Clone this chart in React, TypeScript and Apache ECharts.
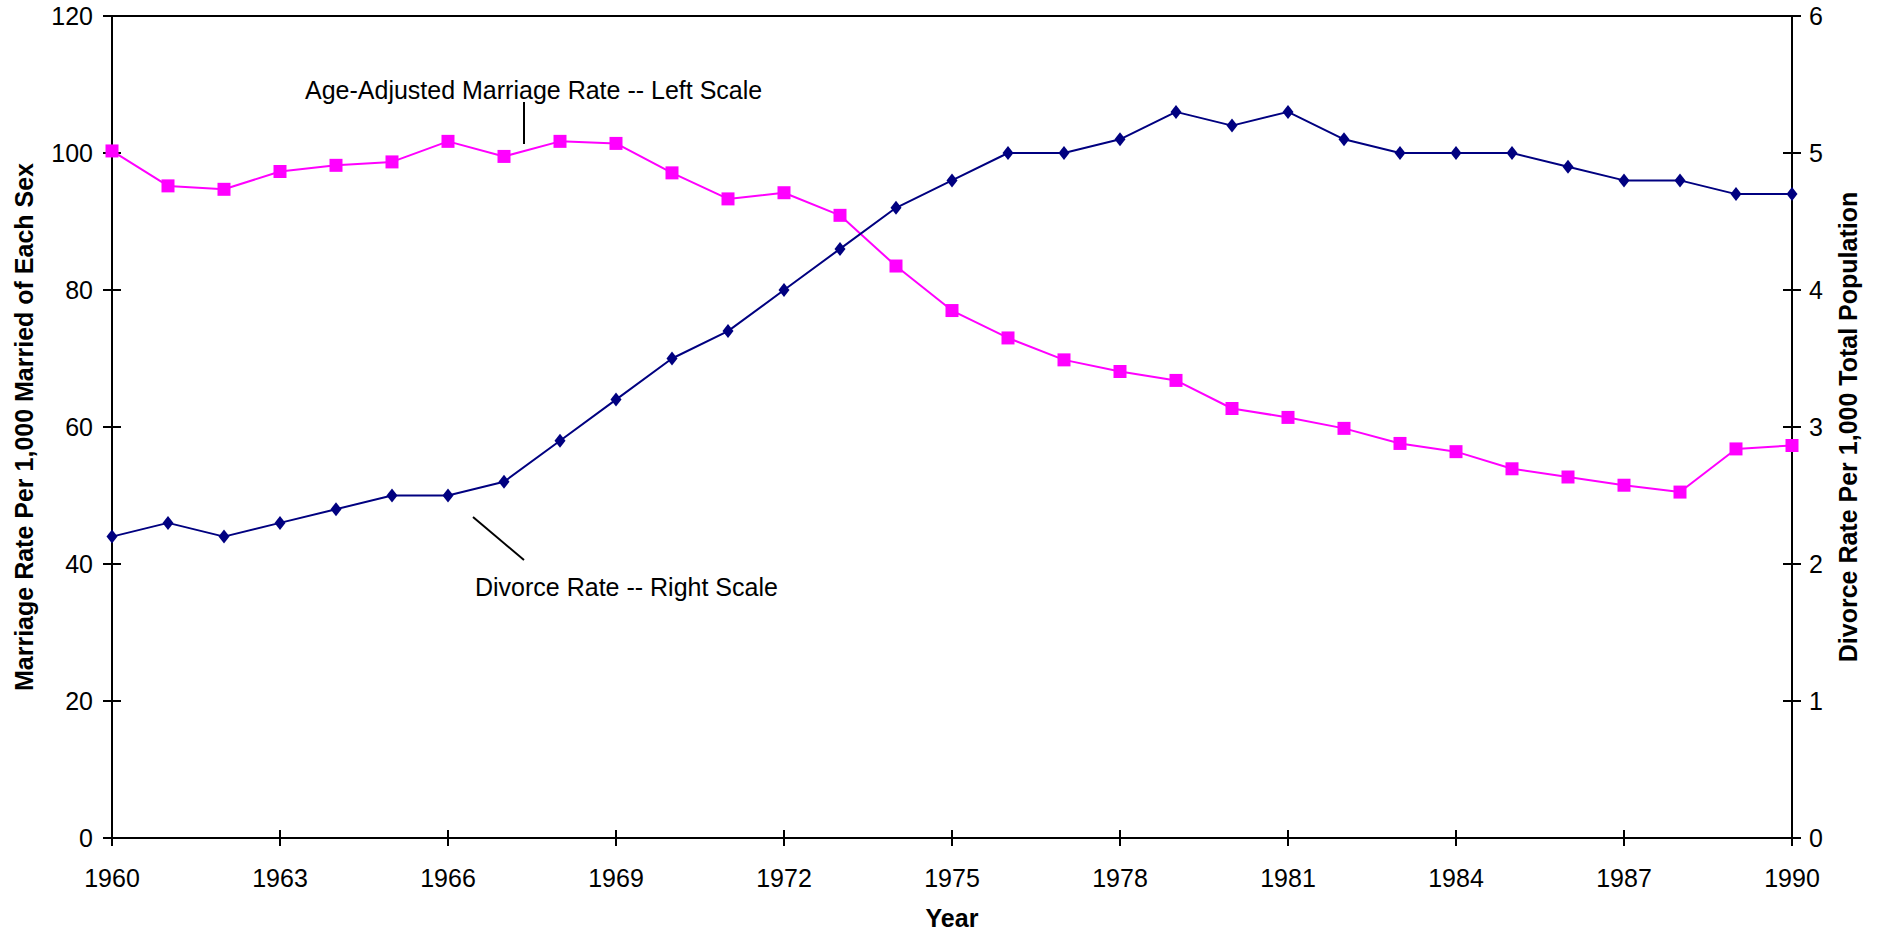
import React, { useEffect, useRef } from "react";
import * as echarts from "echarts";

const years = [
  "1960", "1961", "1962", "1963", "1964", "1965", "1966", "1967", "1968", "1969",
  "1970", "1971", "1972", "1973", "1974", "1975", "1976", "1977", "1978", "1979",
  "1980", "1981", "1982", "1983", "1984", "1985", "1986", "1987", "1988", "1989", "1990",
];

// Age-adjusted marriage rate per 1,000 married of each sex (left scale)
const marriageRate = [
  100.3, 95.2, 94.7, 97.3, 98.2, 98.7, 101.7, 99.5, 101.7, 101.4,
  97.1, 93.3, 94.2, 90.9, 83.5, 77.0, 73.0, 69.8, 68.1, 66.8,
  62.7, 61.4, 59.8, 57.6, 56.4, 53.9, 52.7, 51.5, 50.5, 56.8, 57.3,
];

// Divorce rate per 1,000 total population (right scale)
const divorceRate = [
  2.2, 2.3, 2.2, 2.3, 2.4, 2.5, 2.5, 2.6, 2.9, 3.2,
  3.5, 3.7, 4.0, 4.3, 4.6, 4.8, 5.0, 5.0, 5.1, 5.3,
  5.2, 5.3, 5.1, 5.0, 5.0, 5.0, 4.9, 4.8, 4.8, 4.7, 4.7,
];

const leftAxisMin = 0;
const leftAxisMax = 120;
const leftAxisStep = 20;
const rightAxisMin = 0;
const rightAxisMax = 6;
const rightAxisStep = 1;

const leftTitle = "Marriage Rate Per 1,000 Married of Each Sex";
const rightTitle = "Divorce Rate Per 1,000 Total Population";
const xTitle = "Year";
const marriageNote = "Age-Adjusted Marriage Rate -- Left Scale";
const divorceNote = "Divorce Rate -- Right Scale";

const FONT = '"Liberation Sans", Arial, Helvetica, sans-serif';
const MAGENTA = "#FF00FF";
const NAVY = "#000080";

export default function App() {
  const ref = useRef<HTMLDivElement>(null);

  useEffect(() => {
    if (!ref.current) return;
    const chart = echarts.init(ref.current, null, { renderer: "svg" });

    const tickStyle = { color: "#000", width: 2 };
    const hiddenLine = { show: false };

    const option: any = {
      animation: false,
      backgroundColor: "#fff",
      textStyle: { fontFamily: FONT },
      grid: {
        left: 112,
        top: 16,
        width: 1680,
        height: 822,
        show: true,
        borderColor: "#000",
        borderWidth: 2,
        backgroundColor: "transparent",
      },
      xAxis: [
        {
          type: "category",
          data: years,
          boundaryGap: false,
          position: "bottom",
          axisLine: { show: true, lineStyle: { color: "#000", width: 2 } },
          axisTick: { show: true, inside: false, length: 8, interval: 2, lineStyle: tickStyle },
          axisLabel: {
            interval: 2,
            fontSize: 25,
            color: "#000",
            fontFamily: FONT,
            margin: 27,
          },
          splitLine: { show: false },
        },
        {
          type: "category",
          data: years,
          boundaryGap: false,
          position: "bottom",
          axisLine: hiddenLine,
          axisTick: { show: true, inside: true, length: 8, interval: 2, lineStyle: tickStyle },
          axisLabel: { show: false },
          splitLine: { show: false },
        },
      ],
      yAxis: [
        {
          type: "value",
          position: "left",
          min: leftAxisMin,
          max: leftAxisMax,
          interval: leftAxisStep,
          axisLine: { show: true, lineStyle: { color: "#000", width: 2 } },
          axisTick: { show: true, inside: false, length: 9, lineStyle: tickStyle },
          axisLabel: { fontSize: 25, color: "#000", fontFamily: FONT, margin: 19 },
          splitLine: { show: false },
        },
        {
          type: "value",
          position: "right",
          min: rightAxisMin,
          max: rightAxisMax,
          interval: rightAxisStep,
          axisLine: { show: true, lineStyle: { color: "#000", width: 2 } },
          axisTick: { show: true, inside: false, length: 9, lineStyle: tickStyle },
          axisLabel: { fontSize: 25, color: "#000", fontFamily: FONT, margin: 17 },
          splitLine: { show: false },
        },
        {
          type: "value",
          position: "left",
          min: leftAxisMin,
          max: leftAxisMax,
          interval: leftAxisStep,
          axisLine: hiddenLine,
          axisTick: { show: true, inside: true, length: 9, lineStyle: tickStyle },
          axisLabel: { show: false },
          splitLine: { show: false },
        },
        {
          type: "value",
          position: "right",
          min: rightAxisMin,
          max: rightAxisMax,
          interval: rightAxisStep,
          axisLine: hiddenLine,
          axisTick: { show: true, inside: true, length: 9, lineStyle: tickStyle },
          axisLabel: { show: false },
          splitLine: { show: false },
        },
      ],
      series: [
        {
          name: "Age-Adjusted Marriage Rate",
          type: "line",
          xAxisIndex: 0,
          yAxisIndex: 0,
          data: marriageRate,
          clip: false,
          symbol: "rect",
          symbolSize: 13,
          showAllSymbol: true,
          lineStyle: { color: MAGENTA, width: 2 },
          itemStyle: { color: MAGENTA, borderWidth: 0 },
          z: 3,
        },
        {
          name: "Divorce Rate",
          type: "line",
          xAxisIndex: 0,
          yAxisIndex: 1,
          data: divorceRate,
          clip: false,
          symbol: "diamond",
          symbolSize: [11, 14],
          showAllSymbol: true,
          lineStyle: { color: NAVY, width: 2 },
          itemStyle: { color: NAVY, borderWidth: 0 },
          z: 4,
        },
      ],
      graphic: [
        {
          type: "text",
          x: 24,
          y: 427,
          rotation: Math.PI / 2,
          style: {
            text: leftTitle,
            fontSize: 25,
            fontWeight: "bold",
            fontFamily: FONT,
            fill: "#000",
            align: "center",
            verticalAlign: "middle",
          },
        },
        {
          type: "text",
          x: 1848,
          y: 427,
          rotation: Math.PI / 2,
          style: {
            text: rightTitle,
            fontSize: 25,
            fontWeight: "bold",
            fontFamily: FONT,
            fill: "#000",
            align: "center",
            verticalAlign: "middle",
          },
        },
        {
          type: "text",
          x: 952,
          y: 918,
          style: {
            text: xTitle,
            fontSize: 25,
            fontWeight: "bold",
            fontFamily: FONT,
            fill: "#000",
            align: "center",
            verticalAlign: "middle",
          },
        },
        {
          type: "text",
          x: 305,
          y: 90,
          style: {
            text: marriageNote,
            fontSize: 25,
            fontFamily: FONT,
            fill: "#000",
            align: "left",
            verticalAlign: "middle",
          },
        },
        {
          type: "line",
          shape: { x1: 524, y1: 102, x2: 524, y2: 144 },
          style: { stroke: "#000", lineWidth: 2 },
        },
        {
          type: "text",
          x: 475,
          y: 587,
          style: {
            text: divorceNote,
            fontSize: 25,
            fontFamily: FONT,
            fill: "#000",
            align: "left",
            verticalAlign: "middle",
          },
        },
        {
          type: "line",
          shape: { x1: 473, y1: 517, x2: 524, y2: 560 },
          style: { stroke: "#000", lineWidth: 2 },
        },
      ],
    };

    chart.setOption(option);
    return () => chart.dispose();
  }, []);

  return (
    <div
      ref={ref}
      style={{ position: "fixed", left: 0, top: 0, width: 1887, height: 935, background: "#fff" }}
    />
  );
}
